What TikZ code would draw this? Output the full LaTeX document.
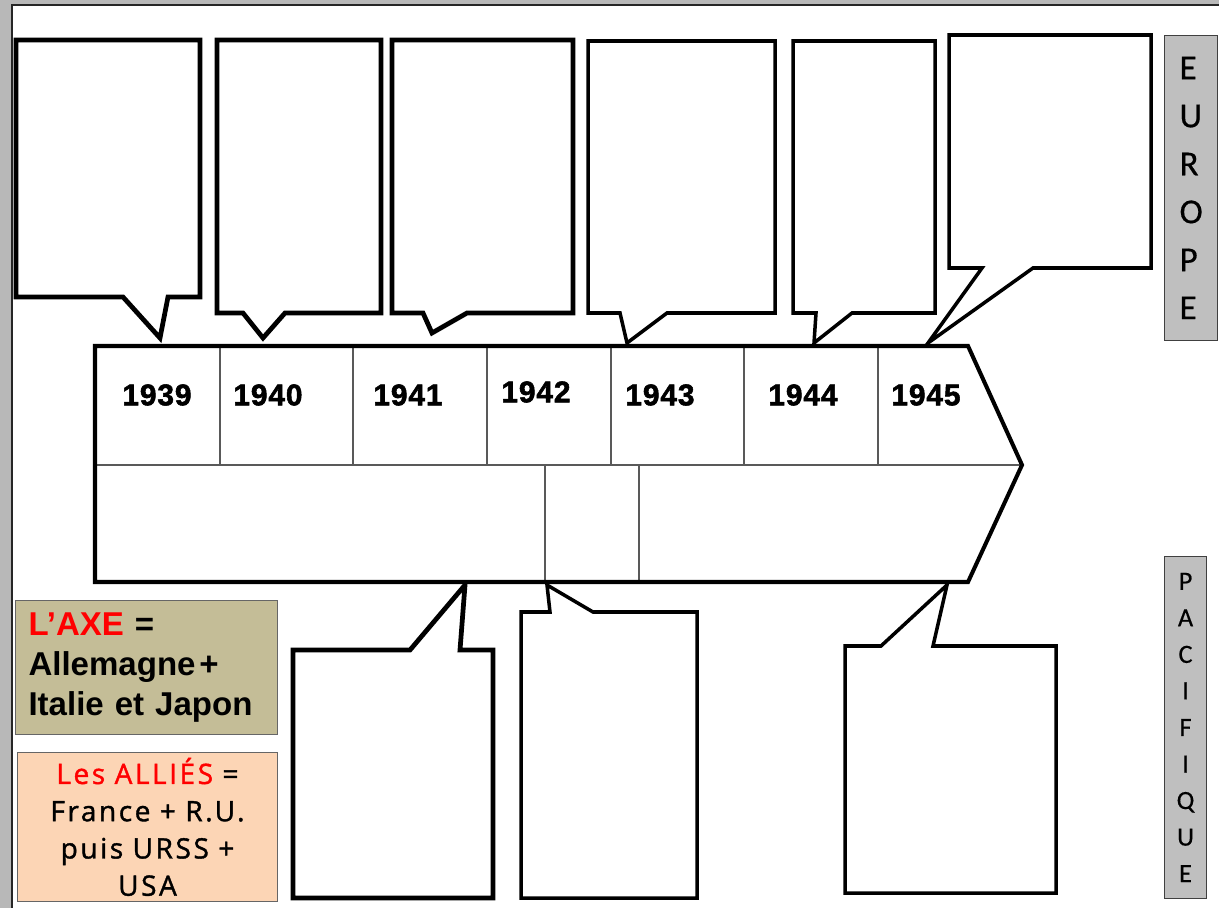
\documentclass[tikz,border=0pt]{standalone}
\usepackage{fontspec}
\setmainfont{Liberation Sans}
\newfontfamily\calibri[FakeBold=0.4]{Carlito}
\newfontfamily\ronde[FakeBold=1.3,LetterSpace=9]{Open Sans}
\newfontfamily\anneefont[LetterSpace=3,FakeBold=1.8]{Liberation Sans Bold}
\definecolor{kaki}{HTML}{C4BD97}
\definecolor{peche}{HTML}{FCD5B5}
\definecolor{gris}{HTML}{BFBFBF}
\begin{document}
\begin{tikzpicture}[
    x=0.02cm, y=-0.02cm,
    bulle/.style={draw=black, fill=white, line width=2.7pt, line join=miter},
    bullefine/.style={draw=black, fill=white, line width=2pt, line join=miter},
    trait/.style={draw=black!65, line width=0.6pt},
    annee/.style={font=\anneefont\fontsize{17}{19}\selectfont},
    zone/.style={
        rectangle, anchor=north west,
        draw=black!75, fill=gris, line width=0.6pt,
      }
  ]
  \useasboundingbox (0,0) rectangle (1219,908);
  % fond de page
  \fill[black!28] (0,0) rectangle (1219,908);
  \fill[white] (12,5) rectangle (1219,908);
  \draw[black!85, line width=0.8pt] (12,908) -- (12,5) -- (1219,5);

  % bulles du haut (Europe)
  \draw[bulle] (16,40) -- (200,40) -- (200,297) -- (168,297) -- (160,338) -- (123,297) -- (16,297) -- cycle;
  \draw[bulle] (217,40) -- (381,40) -- (381,313) -- (285,313) -- (263,338) -- (243,313) -- (217,313) -- cycle;
  \draw[bulle] (392,40) -- (573,40) -- (573,313) -- (467,313) -- (432,333) -- (423,313) -- (392,313) -- cycle;
  \draw[bullefine] (588,41) -- (775,41) -- (775,313) -- (667,313) -- (627,343) -- (620,313) -- (588,313) -- cycle;
  \draw[bullefine] (793,41) -- (935,41) -- (935,313) -- (852,313) -- (814,343) -- (816,313) -- (793,313) -- cycle;
  \draw[bullefine] (949,35) -- (1151,35) -- (1151,268) -- (1033,268) -- (928,343) -- (982,268) -- (949,268) -- cycle;

  % bulles du bas (Pacifique)
  \draw[bulle] (293,650) -- (410,650) -- (465,585) -- (460,650) -- (493,650) -- (493,898) -- (293,898) -- cycle;
  \draw[bullefine] (521,612) -- (550,612) -- (547,585) -- (593,612) -- (697,612) -- (697,898) -- (521,898) -- cycle;
  \draw[bullefine] (845,646) -- (881,646) -- (947,585) -- (933,646) -- (1056,646) -- (1056,893) -- (845,893) -- cycle;

  % frise
  \coordinate (hg) at (95,346);
  \coordinate (hd) at (968,346);
  \coordinate (pointe) at (1022,465);
  \coordinate (bd) at (968,582);
  \coordinate (bg) at (95,582);
  \fill[white] (hg) -- (hd) -- (pointe) -- (bd) -- (bg) -- cycle;
  \draw[trait] (95,465) -- (pointe);
  \foreach \x in {220,353,487,611,744,878}
    \draw[trait] (\x,347) -- (\x,465);
  \foreach \x in {545,639}
    \draw[trait] (\x,465) -- (\x,581);
  \draw[line width=2.3pt, line join=miter] (hg) -- (hd) -- (pointe) -- (bd) -- (bg) -- cycle;

  \node[annee] (a1939) at (157,395) {1939};
  \node[annee] (a1940) at (268,395) {1940};
  \node[annee] (a1941) at (408,395) {1941};
  \node[annee] (a1942) at (536,392) {1942};
  \node[annee] (a1943) at (660,395) {1943};
  \node[annee] (a1944) at (803,395) {1944};
  \node[annee] (a1945) at (926,395) {1945};

  % zones
  \node[zone, minimum width=1.06cm, minimum height=6.1cm, inner xsep=0.3cm, text width=0.46cm, align=left,
    font=\calibri\fontsize{20}{27.3}\selectfont] (europe) at (1164,35) {E\\U\\R\\O\\P\\E};
  \node[zone, minimum width=0.84cm, minimum height=6.84cm, inner sep=0pt, align=center,
    font=\calibri\fontsize{15}{20.8}\selectfont] (pacifique) at (1164,556) {P\\A\\C\\I\\F\\I\\Q\\U\\E};

  % legendes
  \node[rectangle, anchor=north west, draw=black!60, fill=kaki, line width=0.6pt,
    minimum width=5.24cm, minimum height=2.68cm, inner xsep=0.26cm, text width=4.72cm, align=left,
    font=\fontsize{18.8}{22.6}\selectfont\bfseries] (axe) at (15,600)
    {\textcolor{red}{L’AXE} =\\Allemagne\hspace{0.12em}+\\Italie et Japon};
  \node[rectangle, anchor=north west, draw=black!60, fill=peche, line width=0.6pt,
    minimum width=5.2cm, inner xsep=0pt, inner ysep=3pt, text width=5.2cm, align=center,
    font=\ronde\fontsize{16}{21.2}\selectfont] (allies) at (17,752)
    {\textcolor{red}{Les ALLIÉS} =\\France + R.U.\\puis URSS +\\USA};
\end{tikzpicture}
\end{document}
